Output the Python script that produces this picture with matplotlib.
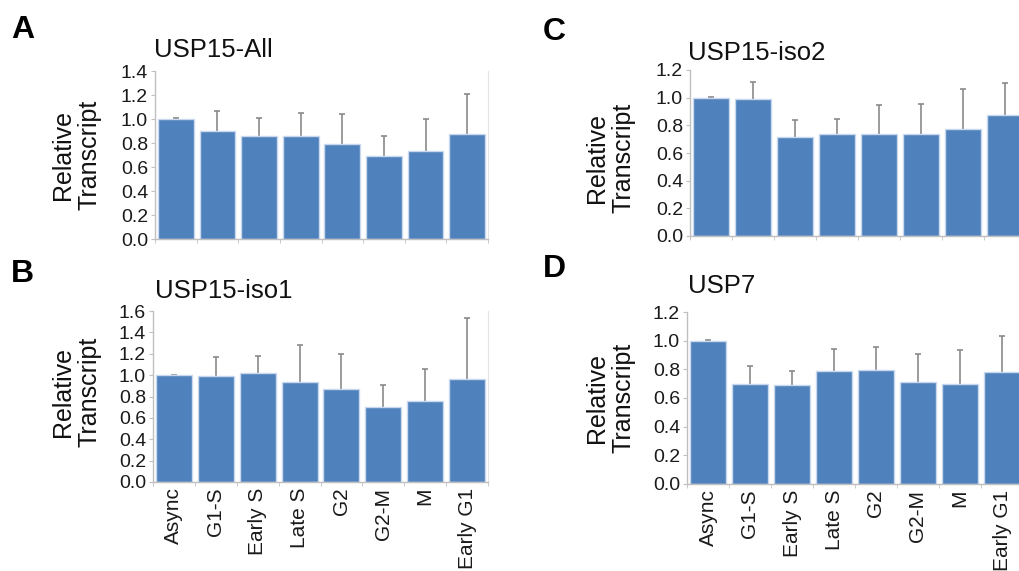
import matplotlib
matplotlib.use("Agg")
import matplotlib.pyplot as plt
import numpy as np

plt.rcParams['font.family'] = ['Liberation Sans', 'DejaVu Sans']

categories = ["Async", "G1-S", "Early S", "Late S", "G2", "G2-M", "M", "Early G1"]

usp15_all = [1.00, 0.90, 0.86, 0.86, 0.79, 0.695, 0.735, 0.875]
usp15_all_err = [0.005, 0.165, 0.15, 0.19, 0.25, 0.165, 0.265, 0.33]

usp15_iso1 = [1.00, 0.99, 1.02, 0.935, 0.87, 0.705, 0.755, 0.96]
usp15_iso1_err = [0.005, 0.175, 0.155, 0.345, 0.33, 0.205, 0.30, 0.575]

usp15_iso2 = [1.00, 0.99, 0.715, 0.735, 0.74, 0.74, 0.77, 0.875]
usp15_iso2_err = [0.005, 0.125, 0.12, 0.11, 0.205, 0.215, 0.295, 0.23]

usp7 = [1.00, 0.695, 0.69, 0.79, 0.795, 0.715, 0.695, 0.78]
usp7_err = [0.005, 0.13, 0.095, 0.155, 0.16, 0.19, 0.24, 0.25]

panels = [
    dict(letter="A", title="USP15-All", vals=usp15_all, err=usp15_all_err,
         ymax=1.4, rect=(155, 71, 488, 239), xlabels=False,
         letter_xy=(11, 38), title_xy=(154, 57), ylab_xy=(76, 155)),
    dict(letter="B", title="USP15-iso1", vals=usp15_iso1, err=usp15_iso1_err,
         ymax=1.6, rect=(153, 311, 488, 482), xlabels=True,
         letter_xy=(11, 282), title_xy=(155, 298), ylab_xy=(76, 392)),
    dict(letter="C", title="USP15-iso2", vals=usp15_iso2, err=usp15_iso2_err,
         ymax=1.2, rect=(690, 70, 1026, 236), xlabels=False,
         letter_xy=(543, 40), title_xy=(688, 60), ylab_xy=(610, 158)),
    dict(letter="D", title="USP7", vals=usp7, err=usp7_err,
         ymax=1.2, rect=(687, 312, 1023, 484), xlabels=True,
         letter_xy=(543, 277), title_xy=(688, 293), ylab_xy=(610, 398)),
]

W, H = 1019, 571
fig = plt.figure(figsize=(W / 100, H / 100), dpi=100)

bar_color = "#4f81bd"
edge_color = "#c9d8ec"
spine_color = "#c0c0c0"
err_color = "#8a8a8a"

for p in panels:
    x0, y0, x1, y1 = p["rect"]
    ax = fig.add_axes([x0 / W, 1 - y1 / H, (x1 - x0) / W, (y1 - y0) / H])
    x = np.arange(len(categories))
    vals = np.array(p["vals"])
    ax.bar(x, vals, width=0.86, color=bar_color, edgecolor=edge_color,
           linewidth=1.0, zorder=2)
    ax.errorbar(x, vals, yerr=[vals * 0.5, p["err"]], fmt="none",
                ecolor=err_color, elinewidth=1.2, capsize=2, capthick=1.2, zorder=1)
    ax.set_xlim(-0.5, len(categories) - 0.5)
    ax.set_ylim(0, p["ymax"])
    yt = np.arange(0, p["ymax"] + 0.001, 0.2)
    ax.set_yticks(yt)
    ax.set_yticklabels([f"{v:.1f}" for v in yt])
    ax.tick_params(axis="y", labelsize=14, length=3, color=spine_color, pad=2,
                   labelcolor="#1a1a1a")
    ax.set_xticks(x)
    ax.set_xticks(np.arange(-0.5, len(categories), 1.0), minor=True)
    ax.tick_params(axis="x", which="major", length=0, pad=4)
    ax.tick_params(axis="x", which="minor", length=3, color=spine_color)
    if p["xlabels"]:
        ax.set_xticklabels(categories, rotation=90, fontsize=15, color="#1a1a1a")
    else:
        ax.set_xticklabels([])
    ax.spines["top"].set_visible(False)
    ax.spines["right"].set_color("#e4e4e4")
    ax.spines["right"].set_linewidth(0.8)
    for s in ["left", "bottom"]:
        ax.spines[s].set_color(spine_color)
        ax.spines[s].set_linewidth(1.0)

    lx, ly = p["letter_xy"]
    fig.text(lx / W, 1 - ly / H, p["letter"], fontsize=23, fontweight="bold",
             ha="left", va="baseline")
    tx, ty = p["title_xy"]
    fig.text(tx / W, 1 - ty / H, p["title"], fontsize=18.5, ha="left",
             va="baseline", color="#111111")
    yx, yy = p["ylab_xy"]
    fig.text(yx / W, 1 - yy / H, "Relative\nTranscript", fontsize=18,
             rotation=90, ha="center", va="center", multialignment="center",
             linespacing=1.15, color="#111111")

fig.savefig("out.png", dpi=100)
